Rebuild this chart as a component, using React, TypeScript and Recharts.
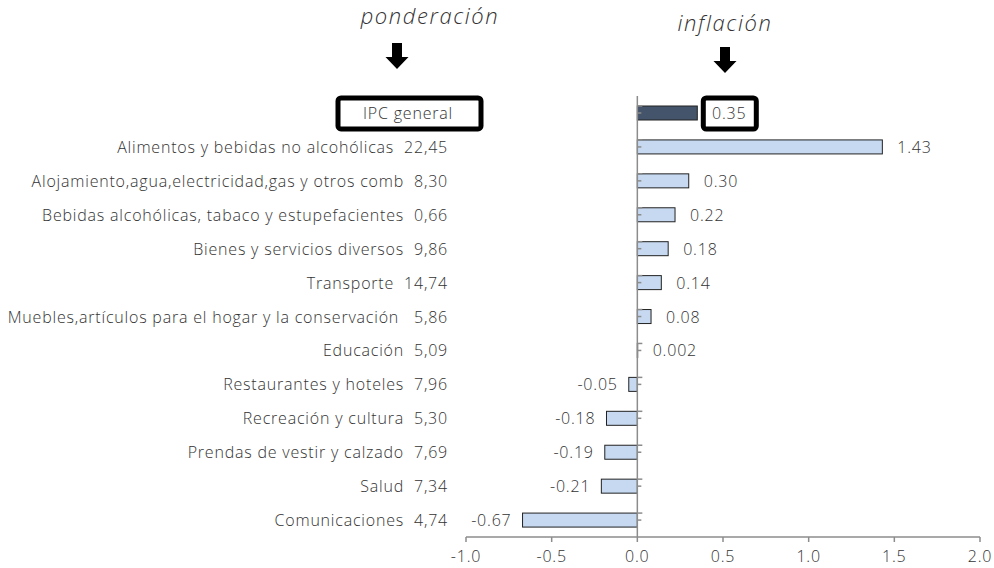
import React from "react";
import {
  BarChart,
  Bar,
  XAxis,
  YAxis,
  ReferenceLine,
  LabelList,
  Cell,
} from "recharts";

const categories = [
  "IPC general",
  "Alimentos y bebidas no alcohólicas",
  "Alojamiento,agua,electricidad,gas y otros comb",
  "Bebidas alcohólicas, tabaco y estupefacientes",
  "Bienes y servicios diversos",
  "Transporte",
  "Muebles,artículos para el hogar y la conservación",
  "Educación",
  "Restaurantes y hoteles",
  "Recreación y cultura",
  "Prendas de vestir y calzado",
  "Salud",
  "Comunicaciones",
];
const weights = ["", "22,45", "8,30", "0,66", "9,86", "14,74", " 5,86", "5,09", "7,96", "5,30", "7,69", "7,34", "4,74"];
const inflation = [0.35, 1.43, 0.3, 0.22, 0.18, 0.14, 0.08, 0.002, -0.05, -0.18, -0.19, -0.21, -0.67];
const valueLabels = ["0.35", "1.43", "0.30", "0.22", "0.18", "0.14", "0.08", "0.002", "-0.05", "-0.18", "-0.19", "-0.21", "-0.67"];
const xTicks = [-1, -0.5, 0, 0.5, 1, 1.5, 2];

const data = categories.map((name, i) => ({
  name,
  weight: weights[i],
  value: inflation[i],
  label: valueLabels[i],
}));

const FONT = "'Open Sans', sans-serif";
const TEXT = "#333";
const AXIS = "#8c8c8c";
const FS = 16;
const LS = 0.8;
const FW = 300;

// left labels: "name  weight", the first one boxed
const CategoryTick = (props: any) => {
  const { x, y, payload, index } = props;
  if (index === 0) {
    return (
      <g>
        <rect x={x - 110} y={y - 15} width={143} height={31} rx={3} fill="#fff" stroke="#000" strokeWidth={5} />
        <text x={x - 40} y={y} textAnchor="middle" dominantBaseline="central" fontSize={FS} fontWeight={FW} letterSpacing={LS} fill={TEXT} fontFamily={FONT}>
          {payload.value}
        </text>
      </g>
    );
  }
  return (
    <text x={x} y={y} textAnchor="end" dominantBaseline="central" fontSize={FS} fontWeight={FW} letterSpacing={LS} fill={TEXT} fontFamily={FONT} style={{ whiteSpace: "pre" }}>
      {payload.value + "  " + data[index].weight}
    </text>
  );
};

// bar plus the little ticks on the zero axis
const BarShape = (props: any) => {
  const { x, y, width, height, index, background, value } = props;
  const v = Array.isArray(value) ? value[1] : value;
  const left = Math.min(x, x + width);
  const w = Math.abs(width);
  const zero = v >= 0 ? left : left + w;
  const band = background || { y: y - 10, height: height + 20 };
  return (
    <g>
      <rect x={left} y={y} width={w} height={height} fill={index === 0 ? "#44546a" : "#c6d9f1"} stroke="#222" strokeWidth={1} />
      <line x1={zero} x2={zero + 5} y1={band.y} y2={band.y} stroke={AXIS} strokeWidth={1.5} />
      <line x1={zero} x2={zero + 4} y1={band.y + band.height / 2} y2={band.y + band.height / 2} stroke={AXIS} strokeWidth={1.5} />
    </g>
  );
};

const ValueLabel = (props: any) => {
  const { x, y, width, height, index } = props;
  const v = inflation[index];
  const left = Math.min(x, x + width);
  const right = Math.max(x, x + width);
  const cy = y + height / 2;
  const txt = valueLabels[index];
  const common = { dominantBaseline: "central" as const, fontSize: FS, fontWeight: FW, letterSpacing: LS, fill: TEXT, fontFamily: FONT };
  if (index === 0) {
    return (
      <g>
        <rect x={right + 6} y={cy - 15} width={53} height={31} rx={3} fill="#fff" stroke="#000" strokeWidth={5} />
        <text x={right + 32} y={cy} textAnchor="middle" {...common}>
          {txt}
        </text>
      </g>
    );
  }
  if (v >= 0) {
    return (
      <text x={right + 15} y={cy} {...common}>
        {txt}
      </text>
    );
  }
  return (
    <text x={left - 11} y={cy} textAnchor="end" {...common}>
      {txt}
    </text>
  );
};

const Arrow = ({ cx, top }: { cx: number; top: number }) => (
  <path
    d={`M${cx - 5},${top} h10 v14 h6.5 l-11.5,12 l-11.5,-12 h6.5 z`}
    fill="#000"
  />
);

export default function App() {
  return (
    <div style={{ position: "absolute", left: 0, top: 0, width: 994, height: 568, background: "#fff" }}>
      <BarChart
        width={994}
        height={568}
        data={data}
        layout="vertical"
        margin={{ top: 96, right: 14, bottom: 1, left: 0 }}
      >
        <XAxis
          type="number"
          domain={[-1, 2]}
          ticks={xTicks}
          tickFormatter={(v: number) => v.toFixed(1)}
          axisLine={{ stroke: AXIS, strokeWidth: 1.5 }}
          tickLine={{ stroke: AXIS, strokeWidth: 1.5 }}
          tickSize={5}
          tickMargin={9}
          tick={{ fill: TEXT, fontSize: FS, fontWeight: FW, fontFamily: FONT, letterSpacing: LS }}
          height={30}
          interval={0}
        />
        <YAxis
          type="category"
          dataKey="name"
          width={466}
          axisLine={false}
          tickLine={false}
          tickSize={0}
          tickMargin={18}
          tick={<CategoryTick />}
          interval={0}
        />
        <Bar dataKey="value" barSize={14} shape={<BarShape />} isAnimationActive={false}>
          {data.map((d, i) => (
            <Cell key={d.name} fill={i === 0 ? "#44546a" : "#c6d9f1"} />
          ))}
          <LabelList dataKey="value" content={<ValueLabel />} />
        </Bar>
        <ReferenceLine x={0} stroke={AXIS} strokeWidth={1.5} />
      </BarChart>
      <svg width={994} height={96} style={{ position: "absolute", left: 0, top: 0 }}>
        <text x={430} y={24} textAnchor="middle" fontSize={22} fontWeight={FW} letterSpacing={1.6} fontStyle="italic" fill={TEXT} fontFamily={FONT}>
          ponderación
        </text>
        <text x={725} y={31} textAnchor="middle" fontSize={22} fontWeight={FW} letterSpacing={1.6} fontStyle="italic" fill={TEXT} fontFamily={FONT}>
          inflación
        </text>
        <Arrow cx={397} top={43} />
        <Arrow cx={725} top={47} />
      </svg>
    </div>
  );
}
